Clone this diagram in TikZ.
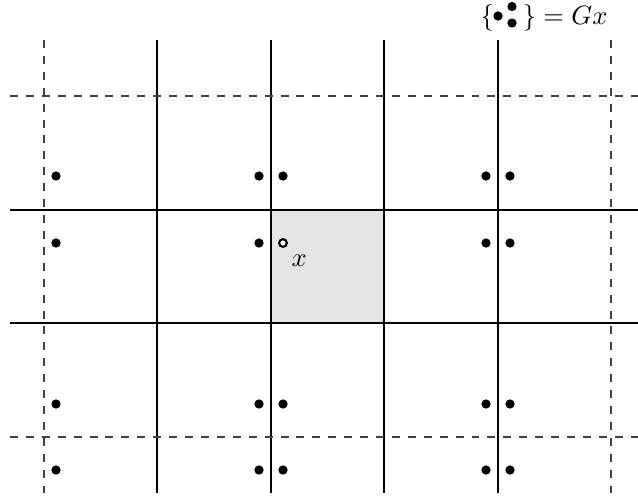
\documentclass[tikz,border=0pt]{standalone}
\begin{document}
\begin{tikzpicture}[x=0.377pt,y=-0.377pt,
  gridline/.style={line width=0.4pt},
  dashline/.style={line width=0.4pt,dashed,black!75},
  dot/.style={circle,fill=black,inner sep=0pt,minimum size=3.5pt},
  odot/.style={circle,draw=black,fill=white,line width=0.8pt,inner sep=0pt,minimum size=2.9pt}]
\useasboundingbox (0,0) rectangle (638,497);
% shaded fundamental cell
\fill[black!10] (271,210) rectangle (384,323);
% solid grid
\foreach \xx in {157,271,384,498} \draw[gridline] (\xx,40) -- (\xx,493);
\foreach \yy in {210,323} \draw[gridline] (10,\yy) -- (638,\yy);
% dashed lines
\foreach \xx in {44,611} \draw[dashline] (\xx,40) -- (\xx,493);
\foreach \yy in {96,437} \draw[dashline] (10,\yy) -- (638,\yy);
% dots
\foreach \yy [count=\i] in {176,243,404,470}{
  \node[dot] (l\i) at (56,\yy) {};
  \node[dot] (ma\i) at (259,\yy) {};
  \node[dot] (ra\i) at (486,\yy) {};
  \node[dot] (rb\i) at (510,\yy) {};
}
\foreach \yy [count=\i] in {176,404,470} \node[dot] (mb\i) at (283,\yy) {};
\node[odot] (x0) at (283,243) {};
\node[anchor=base west,inner sep=0pt] (xl) at (291,266) {$x$};
% orbit label
\node[anchor=base west,inner sep=0pt] (lb) at (480,24) {$\{$};
\node[anchor=base east,inner sep=0pt] (lab) at (608,24) {$\}=Gx$};
\node[dot] (d1) at (498,16) {};
\node[dot] (d2) at (512,6.5) {};
\node[dot] (d3) at (512,23) {};
\end{tikzpicture}
\end{document}
